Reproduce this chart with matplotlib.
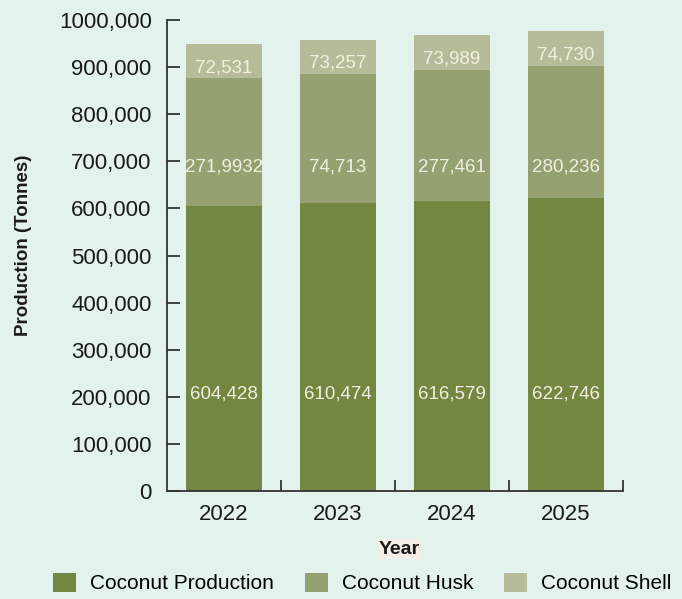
import matplotlib
matplotlib.use("Agg")
import matplotlib.pyplot as plt
from matplotlib.patches import Patch
from matplotlib.ticker import FuncFormatter, MultipleLocator, FixedLocator

# === Data (tonnes) ===
years = ["2022", "2023", "2024", "2025"]
coconut_production = [604428, 610474, 616579, 622746]
coconut_husk = [271993, 274713, 277461, 280236]
coconut_shell = [72531, 73257, 73989, 74730]

# text printed inside the segments
production_labels = ["604,428", "610,474", "616,579", "622,746"]
husk_labels = ["271,9932", "74,713", "277,461", "280,236"]
shell_labels = ["72,531", "73,257", "73,989", "74,730"]

# === Style ===
bg = "#e4f2ee"
c_prod = "#72873f"
c_husk = "#95a170"
c_shell = "#b6bc99"
c_text = "#f3f0e3"
c_axis = "#333333"
font = ["Liberation Sans", "DejaVu Sans"]

plt.rcParams["font.family"] = font

fig = plt.figure(figsize=(6.82, 5.99), dpi=100, facecolor=bg)
ax = fig.add_axes([0.2449, 0.1803, 0.6686, 0.7863])
ax.set_facecolor(bg)

x = list(range(len(years)))
bar_w = 0.66
husk_bottom = coconut_production
shell_bottom = [p + h for p, h in zip(coconut_production, coconut_husk)]

ax.bar(x, coconut_production, width=bar_w, color=c_prod, label="Coconut Production")
ax.bar(x, coconut_husk, width=bar_w, bottom=husk_bottom, color=c_husk, label="Coconut Husk")
ax.bar(x, coconut_shell, width=bar_w, bottom=shell_bottom, color=c_shell, label="Coconut Shell")

# segment labels
prod_label_y = 207000
husk_label_y = 687000
for i in x:
    ax.text(i, prod_label_y, production_labels[i], ha="center", va="center",
            color=c_text, fontsize=13.5)
    ax.text(i, husk_label_y, husk_labels[i], ha="center", va="center",
            color=c_text, fontsize=13.5)
    shell_mid = shell_bottom[i] + coconut_shell[i] / 2 - 14000
    ax.text(i, shell_mid, shell_labels[i], ha="center", va="center",
            color=c_text, fontsize=13.5)

# axes
ax.set_xlim(-0.5, len(years) - 0.5)
ax.set_ylim(0, 1000000)
ax.yaxis.set_major_locator(MultipleLocator(100000))


def thousands(v, pos):
    v = int(round(v))
    if v == 0:
        return "0"
    return f"{v // 1000},{v % 1000:03d}"


ax.yaxis.set_major_formatter(FuncFormatter(thousands))
ax.set_xticks(x)
ax.set_xticklabels(years)
ax.xaxis.set_minor_locator(FixedLocator([0.5, 1.5, 2.5, 3.5]))

ax.tick_params(axis="y", direction="in", length=9.5, width=1.3, color=c_axis,
               labelsize=16, pad=11, labelcolor="#1a1a1a")
ax.tick_params(axis="x", which="major", length=0, labelsize=16, pad=9,
               labelcolor="#1a1a1a")
ax.tick_params(axis="x", which="minor", direction="in", length=8, width=1.3,
               color=c_axis)

for side in ["top", "right"]:
    ax.spines[side].set_visible(False)
for side in ["left", "bottom"]:
    ax.spines[side].set_color(c_axis)
    ax.spines[side].set_linewidth(1.3)

ax.set_ylabel("Production (Tonnes)", fontsize=13.5, fontweight="bold",
              color="#1a1a1a")
ax.yaxis.set_label_coords(-0.296, 0.522)
fig.text(0.585, 1 - 549 / 599, "Year", ha="center", va="center", fontsize=14,
         fontweight="bold", color="#1a1a1a",
         bbox=dict(facecolor="#f6ede6", edgecolor="none", pad=1))

handles = [Patch(facecolor=c_prod), Patch(facecolor=c_husk), Patch(facecolor=c_shell)]
fig.legend(handles, ["Coconut Production", "Coconut Husk", "Coconut Shell"],
           loc="center", bbox_to_anchor=(0.531, 1 - 583 / 599), ncol=3,
           frameon=False, prop={"size": 15},
           handlelength=1.1, handleheight=1.05, handletextpad=0.67,
           columnspacing=1.48, borderaxespad=0, borderpad=0)

fig.savefig("out.png", dpi=100, facecolor=bg)
